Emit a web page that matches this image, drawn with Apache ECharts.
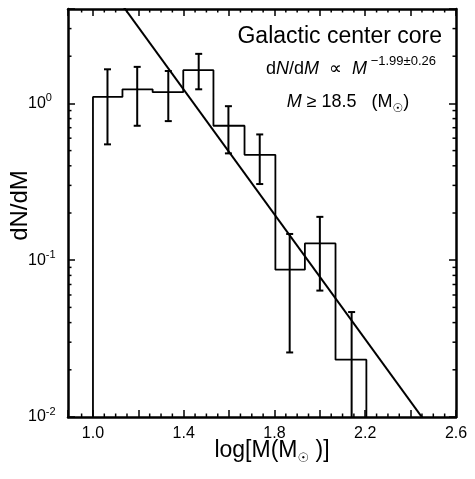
<!DOCTYPE html>
<html>
<head>
<meta charset="utf-8">
<script src="https://cdn.jsdelivr.net/npm/echarts@6/dist/echarts.min.js"></script>
<style>
html, body { margin: 0; padding: 0; background: #fff; }
#chart { width: 475px; height: 479px; }
</style>
</head>
<body>
<div id="chart"></div>
<script>
// histogram of log M (bin edges) and dN/dM per bin
var binEdges = [1.0, 1.130, 1.263, 1.398, 1.531, 1.668, 1.804, 1.934, 2.069, 2.205];
var dNdM = [1.10, 1.23, 1.18, 1.63, 0.72, 0.47, 0.087, 0.128, 0.0232];
// error bars
var errX = [1.064, 1.195, 1.332, 1.466, 1.597, 1.735, 1.867, 2.0, 2.14];
var errLow = [0.548, 0.72, 0.771, 1.23, 0.48, 0.306, 0.0258, 0.064, 0.008];
var errHigh = [1.65, 1.71, 1.61, 2.07, 0.96, 0.634, 0.147, 0.189, 0.0467];
// power law fit: log(dN/dM) = fitA + fitSlope * logM
var fitSlope = -1.99;
var fitA = 2.874;
var fitX = [1.1, 2.5];
// tick labels
var xLabels = [1.0, 1.4, 1.8, 2.2, 2.6];
var yLabels = [0.01, 0.1, 1];
var yExp = ['-2', '-1', '0'];

var xMin = 0.89, xMax = 2.6, yMin = 0.01, yMax = 4;
var font = 'Liberation Sans, Arial, Helvetica, sans-serif';

var histPts = [[binEdges[0], yMin]];
for (var i = 0; i < dNdM.length; i++) {
    histPts.push([binEdges[i], dNdM[i]]);
    histPts.push([binEdges[i + 1], dNdM[i]]);
}
histPts.push([binEdges[binEdges.length - 1], yMin]);

var errData = errX.map(function (x, i) { return [x, errLow[i], errHigh[i]]; });
var fitPts = fitX.map(function (x) { return [x, Math.pow(10, fitA + fitSlope * x)]; });

// minor ticks (every 0.05 on x, 2..9 per decade on y)
var minorTicks = [];
for (var k = 19; k * 0.05 < xMax - 0.001; k++) {
    if (k % 4 !== 0) minorTicks.push([0, +(k * 0.05).toFixed(2)]);
}
yLabels.forEach(function (d) {
    for (var m = 2; m <= 9; m++) {
        if (d * m < yMax) minorTicks.push([1, d * m]);
    }
});

var black = '#000';
var chart = echarts.init(document.getElementById('chart'));

var axisLine = {show: true, onZero: false, lineStyle: {color: black, width: 2.5}};
var axisTick = {show: true, inside: true, length: 7, lineStyle: {color: black, width: 1.5}};

chart.setOption({
    animation: false,
    backgroundColor: '#fff',
    grid: {left: 68, right: 19, top: 9, bottom: 62, containLabel: false, outerBoundsMode: 'none'},
    xAxis: [{
        type: 'value', min: xMin, max: xMax, splitNumber: 8, position: 'bottom',
        axisLine: axisLine, axisTick: axisTick, splitLine: {show: false},
        axisLabel: {
            margin: 9, color: black, fontSize: 16, fontFamily: font,
            formatter: function (v) {
                for (var i = 0; i < xLabels.length; i++) {
                    if (Math.abs(v - xLabels[i]) < 1e-6) return xLabels[i].toFixed(1);
                }
                return '';
            }
        },
        name: '{a|log[M(M}{s|\u2609}{a| )]}', nameLocation: 'middle', nameGap: 20,
        nameMoveOverlap: false,
        nameTextStyle: {
            padding: [0, 0, 0, 20],
            rich: {
                a: {fontSize: 23, fontFamily: font, color: black, lineHeight: 28},
                s: {fontSize: 13, fontFamily: 'DejaVu Sans', color: black, verticalAlign: 'bottom'}
            }
        }
    }, {
        type: 'value', min: xMin, max: xMax, splitNumber: 8, position: 'top',
        axisLine: axisLine, axisTick: axisTick, splitLine: {show: false}, axisLabel: {show: false}
    }],
    yAxis: [{
        type: 'log', logBase: 10, min: yMin, max: yMax, position: 'left',
        axisLine: axisLine, axisTick: axisTick, splitLine: {show: false},
        axisLabel: {
            margin: 40, align: 'left',
            formatter: function (v) {
                for (var i = 0; i < yLabels.length; i++) {
                    if (Math.abs(Math.log10(v) - Math.log10(yLabels[i])) < 1e-6) {
                        return '{b|10}{e|' + yExp[i] + '}';
                    }
                }
                return '';
            },
            rich: {
                b: {fontSize: 16, fontFamily: font, color: black, lineHeight: 22},
                e: {fontSize: 11, fontFamily: font, color: black, verticalAlign: 'top'}
            }
        },
        name: 'dN/dM', nameLocation: 'middle', nameRotate: 90, nameGap: 36,
        nameMoveOverlap: false,
        nameTextStyle: {fontSize: 24, fontFamily: font, color: black, padding: [0, 0, 0, 15]}
    }, {
        type: 'log', logBase: 10, min: yMin, max: yMax, position: 'right',
        axisLine: axisLine, axisTick: axisTick, splitLine: {show: false}, axisLabel: {show: false}
    }],
    graphic: [{
        type: 'text',
        style: {x: 442, y: 37, text: 'Galactic center core', align: 'right', verticalAlign: 'middle',
            fontSize: 23, fontFamily: font, fill: black}
    }, {
        type: 'text',
        style: {
            x: 436, y: 69, align: 'right', verticalAlign: 'middle',
            text: '{r|d}{i|N}{r|/d}{i|M}{r|  \u221D  }{i|M}{sup| \u22121.99\u00B10.26}',
            rich: {
                r: {fontSize: 18, fontFamily: font, fill: black, lineHeight: 28},
                i: {fontSize: 18, fontFamily: font, fontStyle: 'italic', fill: black, lineHeight: 28},
                sup: {fontSize: 13, fontFamily: font, fill: black, verticalAlign: 'top'}
            }
        }
    }, {
        type: 'text',
        style: {
            x: 348, y: 102, align: 'center', verticalAlign: 'middle',
            text: '{i|M}{r| \u2265 18.5   (M}{s|\u2609}{r|)}',
            rich: {
                r: {fontSize: 18, fontFamily: font, fill: black, lineHeight: 26},
                i: {fontSize: 18, fontFamily: font, fontStyle: 'italic', fill: black, lineHeight: 26},
                s: {fontSize: 12, fontFamily: 'DejaVu Sans', fill: black, verticalAlign: 'bottom'}
            }
        }
    }],
    series: [{
        type: 'line', data: histPts, showSymbol: false, silent: true,
        lineStyle: {color: black, width: 1.8}
    }, {
        type: 'line', data: fitPts, showSymbol: false, silent: true,
        lineStyle: {color: black, width: 2}
    }, {
        type: 'custom', data: errData, clip: true, silent: true,
        encode: {x: 0, y: [1, 2]},
        renderItem: function (params, api) {
            var x = api.value(0);
            var lo = api.coord([x, api.value(1)]);
            var hi = api.coord([x, api.value(2)]);
            var w = 3.5;
            var st = {stroke: black, lineWidth: 2};
            return {
                type: 'group', children: [
                    {type: 'line', shape: {x1: lo[0], y1: lo[1], x2: hi[0], y2: hi[1]}, style: st},
                    {type: 'line', shape: {x1: lo[0] - w, y1: lo[1], x2: lo[0] + w, y2: lo[1]}, style: st},
                    {type: 'line', shape: {x1: hi[0] - w, y1: hi[1], x2: hi[0] + w, y2: hi[1]}, style: st}
                ]
            };
        }
    }, {
        type: 'custom', data: minorTicks, silent: true,
        renderItem: function (params, api) {
            var flag = api.value(0), v = api.value(1);
            var bl = api.coord([xMin, yMin]);
            var tr = api.coord([xMax, yMax]);
            var L = 3.5;
            var st = {stroke: black, lineWidth: 1.5};
            var p;
            if (flag === 0) {
                p = api.coord([v, yMin]);
                return {type: 'group', children: [
                    {type: 'line', shape: {x1: p[0], y1: bl[1], x2: p[0], y2: bl[1] - L}, style: st},
                    {type: 'line', shape: {x1: p[0], y1: tr[1], x2: p[0], y2: tr[1] + L}, style: st}
                ]};
            }
            p = api.coord([xMin, v]);
            return {type: 'group', children: [
                {type: 'line', shape: {x1: bl[0], y1: p[1], x2: bl[0] + L, y2: p[1]}, style: st},
                {type: 'line', shape: {x1: tr[0], y1: p[1], x2: tr[0] - L, y2: p[1]}, style: st}
            ]};
        }
    }]
});
</script>
</body>
</html>
